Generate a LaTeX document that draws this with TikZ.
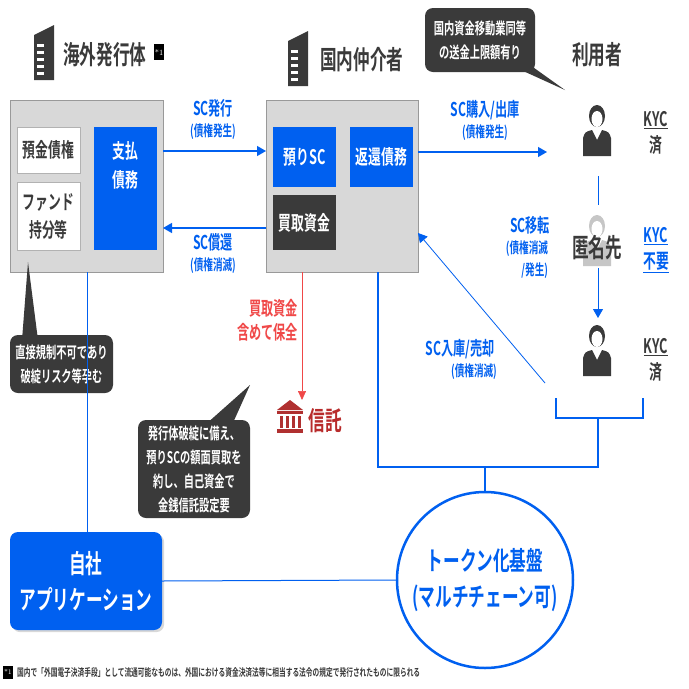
\documentclass[tikz,border=0pt]{standalone}
\usepackage{fontspec}
\newfontfamily\jp{Noto Sans CJK JP Bold}[FakeStretch=0.64]
\usetikzlibrary{arrows.meta,shadows}
\definecolor{bl}{HTML}{0060F0}
\definecolor{dk}{HTML}{3A3A3A}
\definecolor{gr}{HTML}{D8D8D8}
\definecolor{rd}{HTML}{F04848}
\definecolor{brn}{HTML}{B03030}
\tikzset{
 gbox/.style={fill=gr,draw=gray!80},
 wbox/.style={fill=white,draw=gray!60,text=dk,font=\jp\fontsize{20}{23}\selectfont,align=center,inner sep=0},
 bbox/.style={fill=bl,text=white,font=\jp\fontsize{20}{23}\selectfont,align=center,inner sep=0},
 lab/.style={text=bl,font=\jp\fontsize{19}{21}\selectfont,align=center,inner sep=0},
 sub/.style={text=bl,font=\jp\fontsize{15}{18}\selectfont,align=center,inner sep=0},
 ttl/.style={text=dk,font=\jp\fontsize{26}{28}\selectfont,inner sep=0},
 call/.style={fill=dk,text=white,font=\jp\fontsize{16}{24}\selectfont,align=center,rounded corners=8pt,inner sep=0},
 arr/.style={bl,line width=1.3pt,-{Triangle[length=9pt,width=10pt]}},
 thin/.style={bl,line width=0.7pt},
}
\newcommand{\bldg}[2]{%
 \fill[dk] (#1,#2) -- (#1,#2-45) -- (#1+20,#2-55) -- (#1+20,#2) -- cycle;
 \foreach \k in {0,...,4} \fill[white] (#1+3,#2-36+\k*7) rectangle (#1+10,#2-33+\k*7);}
\newcommand{\person}[3]{%
 \fill[#3] (#1,#2-14) ellipse (8 and 11);
 \fill[#3] (#1-14,#2+26) -- (#1-14,#2+8) .. controls (#1-12,#2+2) .. (#1-5,#2) -- (#1,#2+10) -- (#1+5,#2) .. controls (#1+12,#2+2) .. (#1+14,#2+8) -- (#1+14,#2+26) -- cycle;
 \fill[white] (#1,#2-11) ellipse (5.5 and 8);}
\begin{document}
\begin{tikzpicture}[x=1pt,y=-1pt]
\fill[white] (0,0) rectangle (689,689);
\useasboundingbox (0,0) rectangle (689,689);
% titles
\bldg{34}{80}
\node[ttl,anchor=west] (t1) at (63,55) {海外発行体};
\node[fill=black,text=white,font=\fontsize{8}{8}\selectfont,inner sep=1pt,minimum height=16pt,minimum width=8pt] (s1) at (159,52) {*1};
\bldg{288}{86}
\node[ttl,anchor=west] (t2) at (320,60) {国内仲介者};
\node[ttl] (t3) at (597,55) {利用者};
% issuer
\node[gbox,minimum width=153,minimum height=172] (iss) at (86.5,186) {};
\node[wbox,minimum width=63,minimum height=46] (yk) at (48.5,150) {預金債権};
\node[wbox,minimum width=63,minimum height=68,font=\jp\fontsize{20}{28}\selectfont] (fd) at (48.5,216) {ファンド\\持分等};
\node[bbox,minimum width=63,minimum height=123] (sh) at (125.5,188.5) {};
\node[text=white,font=\jp\fontsize{20}{29}\selectfont,align=center] (sht) at (125.5,165) {支払\\債務};
% broker
\node[gbox,minimum width=152,minimum height=172] (brk) at (342,186) {};
\node[bbox,minimum width=63,minimum height=60] (az) at (304.5,157) {預りSC};
\node[bbox,minimum width=63,minimum height=60] (hk) at (381.5,157) {返還債務};
\node[bbox,fill=dk,minimum width=63,minimum height=55] (kt) at (304.5,222.5) {買取資金};
% arrows
\draw[arr] (163,151) -- (266,151);
\node[lab] (l1) at (213,108) {SC発行};
\node[sub] (l1b) at (213,132) {(債権発生)};
\draw[arr] (266,228) -- (163,228);
\node[lab] (l2) at (213,242) {SC償還};
\node[sub] (l2b) at (213,266) {(債権消滅)};
\draw[arr] (418,152) -- (547,152);
\node[lab] (l3) at (485,110) {SC購入/出庫};
\node[sub] (l3b) at (485,133) {(債権発生)};
% users
\person{597}{130}{dk}
\node[font=\jp\fontsize{20}{26}\selectfont,text=dk,align=center] (k1) at (656,133) {\underline{KYC}\\済};
\draw[thin] (598,176) -- (598,205);
\person{597}{240}{gray!45}
\node[font=\jp\fontsize{26}{28}\selectfont,text=dk] (tk) at (597,248) {匿名先};
\node[font=\jp\fontsize{20}{26}\selectfont,text=bl,align=center] (k2) at (656,250) {\underline{KYC}\\\underline{不要}};
\draw[arr,line width=0.8pt] (598,268) -- (598,318);
\node[lab] (l4) at (530,225) {SC移転};
\node[sub,align=right,font=\jp\fontsize{15}{22}\selectfont] (l4b) at (527,260) {(債権消滅\\/発生)};
\person{597}{350}{dk}
\node[font=\jp\fontsize{20}{26}\selectfont,text=dk,align=center] (k3) at (656,360) {\underline{KYC}\\済};
\draw[thin,line width=1.2pt] (556,398) -- (556,418) -- (643,418) -- (643,398);
\draw[thin,line width=1.2pt] (598,418) -- (598,467) -- (378,467) -- (378,272);
\draw[thin,line width=1.2pt] (485,467) -- (485,493);
\draw[arr,line width=0.8pt] (545,383) -- (418,233);
\node[lab] (l5) at (460,349) {SC入庫/売却};
\node[sub] (l5b) at (474,372) {(債権消滅)};
% red
\draw[rd,line width=0.7pt,-{Triangle[length=9pt,width=8pt]}] (302,272) -- (302,400);
\node[text=rd,font=\jp\fontsize{19}{24}\selectfont,align=right,anchor=east,inner sep=0] (rt) at (298,320) {買取資金\\含めて保全};
\fill[brn] (277,410) -- (290,400) -- (303,410) -- cycle;
\fill[brn] (277,411) rectangle (303,414);
\foreach \xx in {280,286,292,298} \fill[brn] (\xx,416) rectangle (\xx+3,428);
\fill[brn] (277,429) rectangle (303,433);
\node[text=brn!90!red,font=\jp\fontsize{26}{28}\selectfont] (st) at (325,421) {信託};
% callouts
\fill[dk] (510,65) -- (530,65) -- (565,90) -- cycle;
\node[call,minimum width=110,minimum height=64] (c0) at (480,40) {国内資金移動業同等\\の送金上限額有り};
\fill[dk] (22,340) -- (28,262) -- (38,340) -- cycle;
\node[call,minimum width=103,minimum height=58] (c1) at (61.5,364) {直接規制不可であり\\破綻リスク等孕む};
\fill[dk] (205,425) -- (250,385) -- (232,425) -- cycle;
\node[call,minimum width=112,minimum height=98] (c2) at (194,469) {発行体破綻に備え、\\預りSCの額面買取を\\約し、自己資金で\\金銭信託設定要};
% bottom
\draw[thin] (87,272) -- (87,532);
\node[bbox,rounded corners=8pt,minimum width=152,minimum height=98,font=\jp\fontsize{26}{36}\selectfont,drop shadow={opacity=0.3}] (app) at (86,581) {自社\\アプリケーション};
\node[circle,draw=bl,line width=2.5pt,fill=white,minimum size=176,inner sep=0,text=bl,font=\jp\fontsize{26}{36}\selectfont,align=center] (tb) at (485,580) {トークン化基盤\\(マルチチェーン可)};
\draw[thin,line width=1pt] (app.east) -- (tb.west);
\node[fill=black,text=white,font=\fontsize{7}{7}\selectfont,inner sep=1pt,minimum height=13pt,minimum width=7pt] (s2) at (8,672) {*1};
\node[anchor=west,text=dk,font=\jp\fontsize{10.5}{12}\selectfont,inner sep=0] (fn) at (17,673) {国内で「外国電子決済手段」として流通可能なものは、外国における資金決済法等に相当する法令の規定で発行されたものに限られる};
\end{tikzpicture}
\end{document}
